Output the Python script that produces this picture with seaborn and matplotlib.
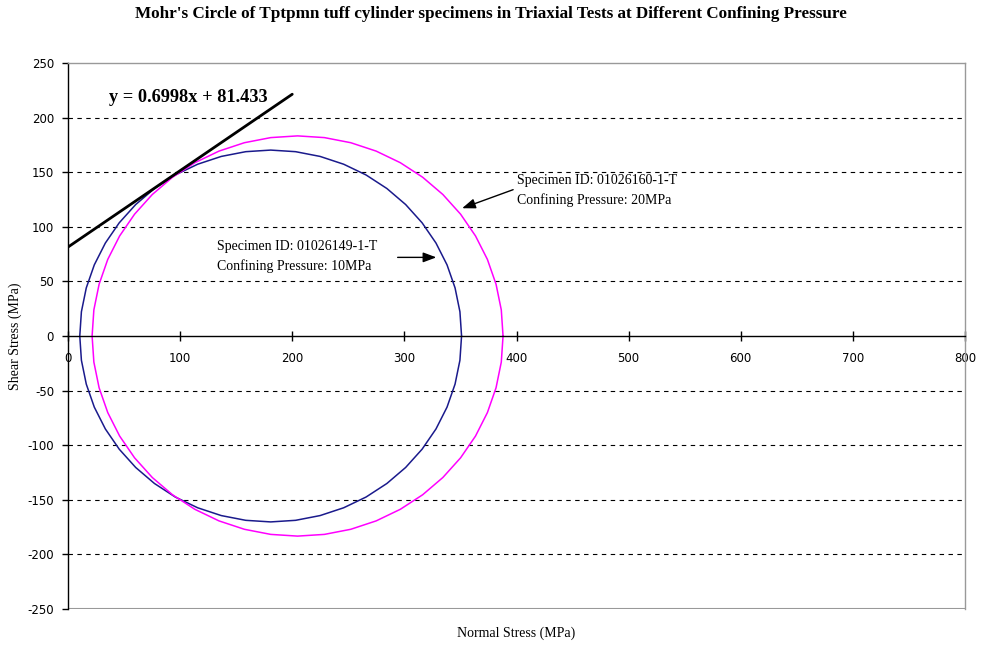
import numpy as np
import pandas as pd
import matplotlib
matplotlib.use("Agg")
import matplotlib.pyplot as plt
import seaborn as sns

# Principal stresses of each specimen (MPa)
specimens = ["01026149-1-T", "01026160-1-T"]
confining = [10, 20]
sigma3 = [10.5, 21.5]
sigma1 = [351.0, 388.0]
colors = ["#1a1a8c", "#ff00ff"]

# Mohr-Coulomb envelope
slope = 0.6998
intercept = 81.433
env_x = [0, 200]

x_ticks = [0, 100, 200, 300, 400, 500, 600, 700, 800]
y_ticks = [-250, -200, -150, -100, -50, 0, 50, 100, 150, 200, 250]

sns.set_style("white")
plt.rcParams["font.family"] = ["Liberation Serif", "DejaVu Serif"]
plt.rcParams["text.color"] = "black"
plt.rcParams["axes.labelcolor"] = "black"

fig = plt.figure(figsize=(9.81, 6.56), dpi=100)
ax = fig.add_axes([68/981, 1-609/656, (965-68)/981, (609-63)/656])

theta = np.linspace(0, 2*np.pi, 49)
for s3, s1, c in zip(sigma3, sigma1, colors):
    cen = (s1 + s3) / 2
    r = (s1 - s3) / 2
    df = pd.DataFrame({"x": cen + r*np.cos(theta), "y": r*np.sin(theta)})
    sns.lineplot(data=df, x="x", y="y", sort=False, estimator=None,
                 color=c, lw=1.1, ax=ax)

env_y = [slope*v + intercept for v in env_x]
sns.lineplot(x=env_x, y=env_y, color="black", lw=2, ax=ax)

ax.spines["bottom"].set_position(("data", 0))
ax.spines["bottom"].set_color("black")
ax.spines["left"].set_color("black")
ax.spines["top"].set_color("#999999")
ax.spines["right"].set_color("#999999")
for s in ax.spines.values():
    s.set_linewidth(1)

ax.set_xlim(0, 800)
ax.set_ylim(-250, 250)
ax.set_xticks(x_ticks)
ax.set_yticks(y_ticks)
ax.set_xticklabels([str(v) for v in x_ticks])
ax.set_yticklabels([str(v) for v in y_ticks])

for v in y_ticks:
    if v not in (0, 250, -250):
        ax.axhline(v, color="black", lw=0.8, ls=(0, (4, 4)), zorder=0)
ax.axhline(-250, color="#999999", lw=1.5, zorder=0)

ax.tick_params(axis="x", direction="inout", length=7, width=1, pad=8, colors="black", bottom=True,
               labelsize=8.5, labelfontfamily="DejaVu Sans")
ax.tick_params(axis="y", direction="out", length=4, width=1, pad=6, colors="black", left=True,
               labelsize=8.5, labelfontfamily="DejaVu Sans")

ax.set_xlabel("Normal Stress (MPa)", fontsize=10, va="center")
ax.xaxis.set_label_coords(0.5, -0.044)
ax.set_ylabel("Shear Stress (MPa)", fontsize=10, va="center")
ax.yaxis.set_label_coords(-0.059, 0.5)

fig.text(0.5, 1-14/656, "Mohr's Circle of Tptpmn tuff cylinder specimens in Triaxial Tests at Different Confining Pressure",
         ha="center", va="center", fontsize=12.3, fontweight="bold")

ax.text(37, 218, f"y = {slope}x + {intercept}", fontsize=13.2, fontweight="bold", va="center")

ax.text(133, 73, f"Specimen ID: {specimens[0]}\nConfining Pressure: {confining[0]}MPa",
        fontsize=10, va="center", ha="left", linespacing=1.55)
ax.annotate("", xy=(328.5, 72), xytext=(294, 72),
            arrowprops=dict(arrowstyle="-|>,head_length=0.8,head_width=0.3", color="black", lw=1,
                            shrinkA=0, shrinkB=0))
ax.text(400.5, 133, f"Specimen ID: {specimens[1]}\nConfining Pressure: {confining[1]}MPa",
        fontsize=10, va="center", ha="left", linespacing=1.55)
ax.annotate("", xy=(351.5, 117), xytext=(397, 134),
            arrowprops=dict(arrowstyle="-|>,head_length=0.8,head_width=0.3", color="black", lw=1,
                            shrinkA=0, shrinkB=0))

fig.savefig("out.png", dpi=100)
